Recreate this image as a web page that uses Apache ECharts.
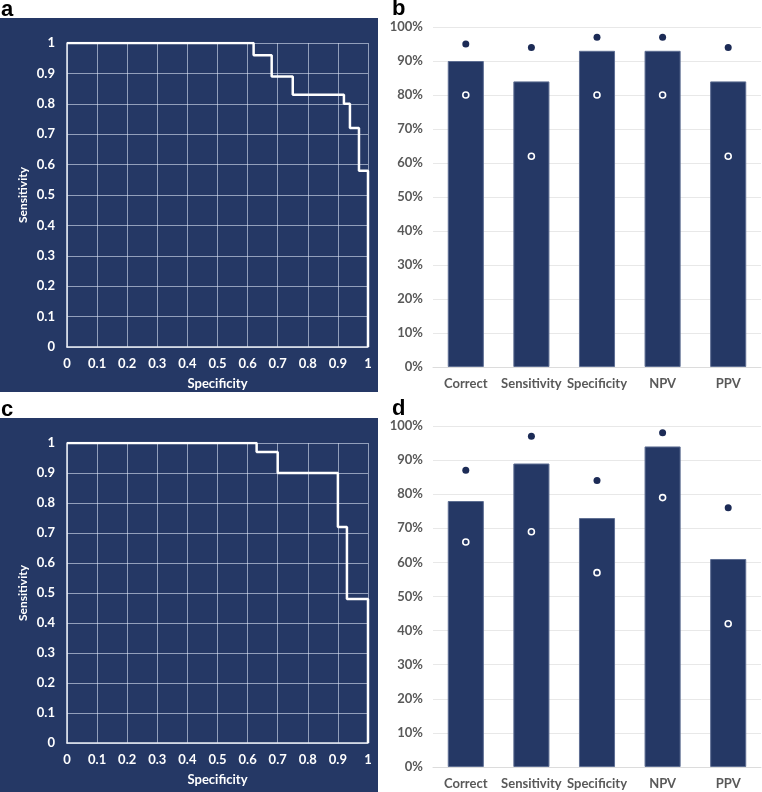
<!DOCTYPE html>
<html><head><meta charset="utf-8">
<script src="https://cdn.jsdelivr.net/npm/echarts@6/dist/echarts.min.js"></script>
<style>html,body{margin:0;padding:0;background:#fff}#c{width:762px;height:792px}</style>
</head><body><div id="c"></div>
<script>
// ROC panel a (specificity, sensitivity) step points
const rocA_spec = [0, 0.62, 0.68, 0.75, 0.92, 0.94, 0.97, 1];
const rocA_sens = [1, 0.96, 0.89, 0.83, 0.80, 0.72, 0.58, 0];
// ROC panel c
const rocC_spec = [0, 0.63, 0.70, 0.90, 0.93, 1];
const rocC_sens = [1, 0.97, 0.90, 0.72, 0.48, 0];
// Bar panels
const categories = ['Correct', 'Sensitivity', 'Specificity', 'NPV', 'PPV'];
const barB = [90, 84, 93, 93, 84];
const upperB = [95, 94, 97, 97, 94];
const lowerB = [80, 62, 80, 80, 62];
const barD = [78, 89, 73, 94, 61];
const upperD = [87, 97, 84, 98, 76];
const lowerD = [66, 69, 57, 79, 42];
const rocTicks = ['0','0.1','0.2','0.3','0.4','0.5','0.6','0.7','0.8','0.9','1'];
const panelLabels = ['a', 'b', 'c', 'd'];

const NAVY = '#253865';
const FONT = 'Lato';
const chart = echarts.init(document.getElementById('c'), null, {renderer: 'canvas'});

function rocFmt(v) { return rocTicks[Math.round(v * 10)]; }
function pairs(xs, ys) { return xs.map((x, i) => [x, ys[i]]); }

const rocX = (gi) => ({
  type: 'value', gridIndex: gi, min: 0, max: 1, interval: 0.1,
  name: 'Specificity', nameLocation: 'middle', nameGap: 30,
  nameTextStyle: {color: '#fff', fontFamily: FONT, fontWeight: 'bold', fontSize: 13},
  axisLine: {show: true, lineStyle: {color: '#e8ecf4', width: 1.5}},
  axisTick: {show: false},
  axisLabel: {color: '#fff', fontFamily: FONT, fontWeight: 'bold', fontSize: 13, margin: 10, formatter: rocFmt},
  splitLine: {show: true, lineStyle: {color: 'rgba(220,228,245,0.6)', width: 1}}
});
const rocY = (gi) => ({
  type: 'value', gridIndex: gi, min: 0, max: 1, interval: 0.1,
  name: 'Sensitivity', nameLocation: 'middle', nameGap: 38, nameRotate: 90,
  nameTextStyle: {color: '#fff', fontFamily: FONT, fontWeight: 'bold', fontSize: 12},
  axisLine: {show: true, lineStyle: {color: '#e8ecf4', width: 1.5}},
  axisTick: {show: false},
  axisLabel: {color: '#fff', fontFamily: FONT, fontWeight: 'bold', fontSize: 13, margin: 12, formatter: rocFmt},
  splitLine: {show: true, lineStyle: {color: 'rgba(220,228,245,0.6)', width: 1}}
});
const barX = (gi) => ({
  type: 'category', gridIndex: gi, data: categories,
  axisLine: {show: true, lineStyle: {color: '#dcdcdc'}},
  axisTick: {show: false},
  axisLabel: {color: '#595959', fontFamily: FONT, fontWeight: 'bold', fontSize: 13, margin: 10, interval: 0}
});
const barY = (gi) => ({
  type: 'value', gridIndex: gi, min: 0, max: 100, interval: 10,
  axisLine: {show: false}, axisTick: {show: false},
  axisLabel: {color: '#595959', fontFamily: FONT, fontWeight: 'bold', fontSize: 13, margin: 10, formatter: '{value}%'},
  splitLine: {show: true, lineStyle: {color: '#e8e8e8', width: 1}}
});

function rocSeries(gi, xs, ys) {
  return {
    type: 'line', xAxisIndex: gi, yAxisIndex: gi, data: pairs(xs, ys), step: 'end',
    showSymbol: false, symbol: 'none', lineStyle: {color: '#fff', width: 2.5}, z: 5, animation: false
  };
}
function barSeries(gi, bars, up, low) {
  return [
    {type: 'bar', xAxisIndex: gi, yAxisIndex: gi, data: bars, barWidth: '55%',
     itemStyle: {color: NAVY, borderColor: '#5d6d92', borderWidth: 1}, animation: false},
    {type: 'scatter', xAxisIndex: gi, yAxisIndex: gi, data: up, symbolSize: 7,
     itemStyle: {color: '#1c2b56', opacity: 1}, z: 5, animation: false},
    {type: 'scatter', xAxisIndex: gi, yAxisIndex: gi, data: low, symbolSize: 6,
     itemStyle: {color: NAVY, borderColor: '#fff', borderWidth: 1.6, opacity: 1}, z: 5, animation: false}
  ];
}

const labelStyle = {fill: '#000', font: 'bold 22px "Liberation Sans", Arial, sans-serif'};

chart.setOption({
  backgroundColor: '#fff',
  animation: false,
  graphic: [
    {type: 'rect', shape: {x: 0, y: 18, width: 378, height: 374}, style: {fill: NAVY}, z: -10, silent: true},
    {type: 'rect', shape: {x: 0, y: 418, width: 378, height: 374}, style: {fill: NAVY}, z: -10, silent: true},
    {type: 'text', left: 1, top: -1, style: Object.assign({text: panelLabels[0]}, labelStyle)},
    {type: 'text', left: 392, top: -2, style: Object.assign({text: panelLabels[1]}, labelStyle)},
    {type: 'text', left: 1, top: 399, style: Object.assign({text: panelLabels[2]}, labelStyle)},
    {type: 'text', left: 392, top: 398, style: Object.assign({text: panelLabels[3]}, labelStyle)}
  ],
  grid: [
    {left: 67, top: 43, width: 301, height: 304},
    {left: 433, top: 27, width: 328, height: 340},
    {left: 67, top: 443, width: 301, height: 300},
    {left: 433, top: 426, width: 328, height: 341}
  ],
  xAxis: [rocX(0), barX(1), rocX(2), barX(3)],
  yAxis: [rocY(0), barY(1), rocY(2), barY(3)],
  series: [
    rocSeries(0, rocA_spec, rocA_sens),
    ...barSeries(1, barB, upperB, lowerB),
    rocSeries(2, rocC_spec, rocC_sens),
    ...barSeries(3, barD, upperD, lowerD)
  ]
});
</script></body></html>
